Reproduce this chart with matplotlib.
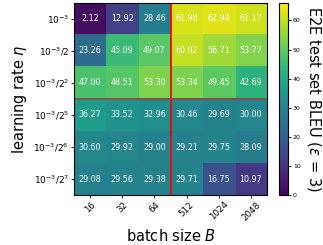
import numpy as np
import matplotlib
matplotlib.use("Agg")
import matplotlib.pyplot as plt

batch_sizes = ["16", "32", "64", "512", "1024", "2048"]
lr_labels = [r"$10^{-3}$", r"$10^{-3}/2$", r"$10^{-3}/2^2$",
             r"$10^{-3}/2^5$", r"$10^{-3}/2^6$", r"$10^{-3}/2^7$"]
bleu = np.array([
    [2.12, 12.92, 28.46, 61.98, 62.94, 61.17],
    [23.26, 45.09, 49.07, 60.02, 56.71, 53.77],
    [47.00, 48.51, 53.30, 53.34, 49.45, 42.69],
    [36.27, 33.52, 32.96, 30.46, 29.69, 30.00],
    [30.60, 29.92, 29.00, 29.21, 29.75, 28.09],
    [29.08, 29.56, 29.38, 29.71, 16.75, 10.97],
])

fig = plt.figure(figsize=(3.23, 2.45), dpi=100)
ax = fig.add_axes([0.229, 0.204, 0.598, 0.784])
cax = fig.add_axes([0.864, 0.204, 0.028, 0.784])

im = ax.imshow(bleu, cmap="viridis", vmin=0, vmax=66, aspect="auto")
for i in range(bleu.shape[0]):
    for j in range(bleu.shape[1]):
        ax.text(j, i, f"{bleu[i, j]:.2f}", ha="center", va="center",
                color="white", fontsize=5.8)

# lr split (faded) then small / large batch split
ax.axhline(2.5, color="red", alpha=0.5, linewidth=1.3)
ax.axvline(2.5, color="red", linewidth=1.3)

ax.set_xticks(range(len(batch_sizes)))
ax.set_xticklabels(batch_sizes, rotation=45, fontsize=6.3)
ax.set_yticks(range(len(lr_labels)))
ax.set_yticklabels(lr_labels, fontsize=6.5)
ax.tick_params(length=2, width=0.6, pad=1.5)
ax.set_xlabel("batch size $B$", fontsize=10.5, labelpad=4)
ax.set_ylabel(r"learning rate $\eta$", fontsize=10.5, labelpad=3)

cb = fig.colorbar(im, cax=cax)
cb.set_ticks([0, 10, 20, 30, 40, 50, 60])
cb.ax.tick_params(labelsize=4.5, length=2, width=0.6, pad=1.5)
cb.set_label(r"E2E test set BLEU ($\varepsilon$ = 3)", rotation=270,
             fontsize=10.5, labelpad=16)

fig.savefig("out.png", dpi=100)
